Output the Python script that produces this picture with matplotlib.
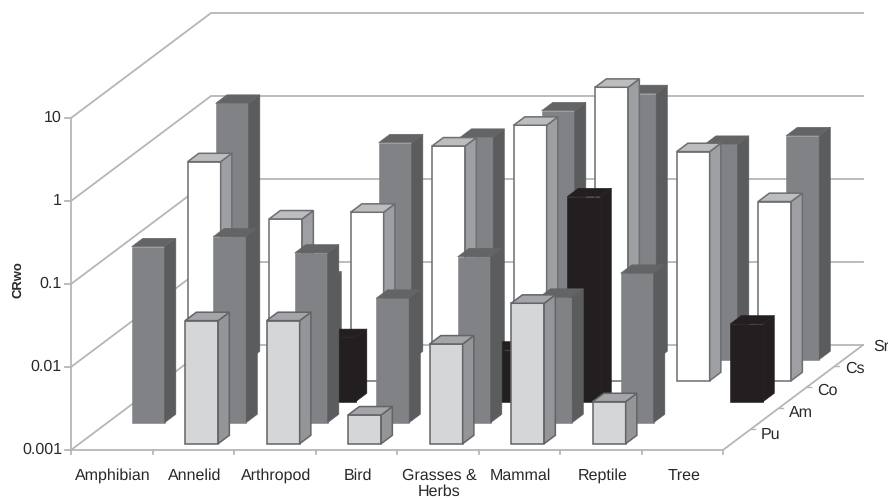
import numpy as np
import matplotlib
matplotlib.use("Agg")
import matplotlib.pyplot as plt
from matplotlib.patches import Polygon

plt.rcParams['font.family'] = ['Liberation Sans', 'DejaVu Sans']
plt.rcParams['text.hinting'] = 'no_hinting'
plt.rcParams['text.hinting_factor'] = 1

categories = ['Amphibian', 'Annelid', 'Arthropod', 'Bird', 'Grasses &\nHerbs', 'Mammal', 'Reptile', 'Tree']
series_names = ['Pu', 'Am', 'Co', 'Cs', 'Sr']
y_ticks = [0.001, 0.01, 0.1, 1, 10]
y_tick_labels = ['0.001', '0.01', '0.1', '1', '10']

# CRwo values, None = no bar
pu = [None, 0.0304, 0.0304, 0.00222, 0.0159, 0.0492, 0.00321, None]
am = [0.132, 0.174, 0.111, 0.0316, 0.100, 0.0325, 0.0632, None]
co = [None, None, 0.00594, None, 0.0042, 0.295, None, 0.00864]
cs = [0.435, 0.0889, 0.107, 0.673, 1.196, 3.43, 0.575, 0.144]
sr = [1.23, 0.00914, 0.412, 0.479, 1.0, 1.61, 0.394, 0.50]
values = [pu, am, co, cs, sr]

# front, side, top, edge colours per series
styles = [
    ('#d5d6d8', '#939598', '#a3a5a8', '#636466'),
    ('#808285', '#5b5c5e', '#636466', None),
    ('#231f20', '#231f20', '#231f20', None),
    ('#ffffff', '#9d9fa2', '#bbbdbf', '#6d6e71'),
    ('#808285', '#5b5c5e', '#636466', None),
]
grid_col = '#b5b6b8'
text_col = '#2b2829'

# oblique projection of the 3D box, in figure pixels
left, floor_y = 71.0, 450.0
cat_w = 81.5
decade_h = 83.0
depth_x, depth_y = 28.0, -21.0
bar_w, bar_d = 0.405, 0.40


def proj(c, s, v):
    """c = category position, s = series depth, v = CRwo"""
    x = left + c * cat_w + s * depth_x
    y = floor_y + s * depth_y - (np.log10(v) - np.log10(y_ticks[0])) * decade_h
    return x, y


fig = plt.figure(figsize=(8.88, 4.99), dpi=100)
ax = fig.add_axes([0, 0, 1, 1])
ax.set_xlim(0, 888)
ax.set_ylim(499, 0)
ax.axis('off')

nc, ns = len(categories), len(series_names)

# walls
for t in y_ticks:
    pts = [proj(0, 0, t), proj(0, ns, t), proj(nc, ns, t)]
    ax.plot(*zip(*pts), color=grid_col, lw=1.3, solid_joinstyle='miter', zorder=1)
    x, y = proj(0, 0, t)
    ax.plot([x - 6, x], [y, y], color=grid_col, lw=1.3, zorder=1)
ax.plot(*zip(proj(0, 0, y_ticks[0]), proj(0, 0, y_ticks[-1])), color=grid_col, lw=1.3, zorder=1)

# floor
ax.plot(*zip(proj(0, 0, y_ticks[0]), proj(nc, 0, y_ticks[0]), proj(nc, ns, y_ticks[0])),
        color=grid_col, lw=1.3, solid_joinstyle='miter', zorder=1)
for c in range(nc + 1):
    x, y = proj(c, 0, y_ticks[0])
    ax.plot([x, x], [y, y + 4], color=grid_col, lw=1.3, zorder=1)
for s in range(1, ns):
    x, y = proj(nc, s, y_ticks[0])
    ax.plot([x, x + 4], [y, y], color=grid_col, lw=1.0, zorder=1)

# bars, back row first
for s in range(ns - 1, -1, -1):
    front, side, top, edge = styles[s]
    for c in range(nc):
        v = values[s][c]
        if v is None:
            continue
        c0, c1 = c + 0.5 - bar_w / 2, c + 0.5 + bar_w / 2
        s0, s1 = s + 0.5 - bar_d / 2, s + 0.5 + bar_d / 2
        b = y_ticks[0]
        faces = [
            ([proj(c0, s0, b), proj(c1, s0, b), proj(c1, s0, v), proj(c0, s0, v)], front),
            ([proj(c1, s0, b), proj(c1, s1, b), proj(c1, s1, v), proj(c1, s0, v)], side),
            ([proj(c0, s0, v), proj(c1, s0, v), proj(c1, s1, v), proj(c0, s1, v)], top),
        ]
        for pts, col in faces:
            if edge:
                ax.add_patch(Polygon(pts, closed=True, facecolor=col, edgecolor=edge, lw=1.1,
                                     joinstyle='miter', zorder=3 + (ns - s)))
            else:
                ax.add_patch(Polygon(pts, closed=True, facecolor=col, edgecolor=col, lw=0.4,
                                     zorder=3 + (ns - s)))

# labels
fs = 11.3
for c, name in enumerate(categories):
    x, y = proj(c + 0.5, 0, y_ticks[0])
    ax.text(x + 1.5, y + 18, name, ha='center', va='top', fontsize=fs, color=text_col, linespacing=1.15)
for t, lab in zip(y_ticks, y_tick_labels):
    x, y = proj(0, 0, t)
    ax.text(x - 9, y, lab, ha='right', va='center', fontsize=fs, color=text_col)
for s, name in enumerate(series_names):
    x, y = proj(nc, s + 0.5, y_ticks[0])
    ax.text(x + 24, y - 4.5 - s, name, ha='left', va='center', fontsize=fs, color=text_col)
ax.text(18, 280, 'CRwo', rotation=90, ha='center', va='center', fontsize=9.6, fontweight='bold',
        color=text_col)

fig.savefig('out.png', dpi=100)
